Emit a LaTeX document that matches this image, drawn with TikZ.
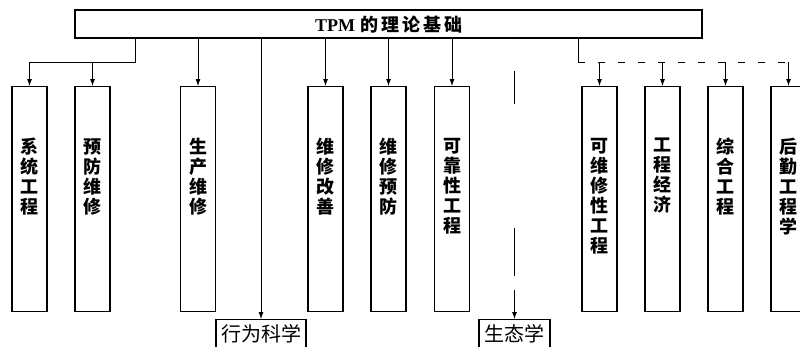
\documentclass[tikz,border=0pt]{standalone}
\usepackage{fontspec}
\setmainfont{Liberation Serif}
\newfontfamily\cjk{Noto Sans CJK SC}
\usetikzlibrary{arrows.meta}
\newcommand{\tsp}{\hspace{3pt}}
\tikzset{
  colbox/.style={draw, line width=1.1pt, minimum width=35pt, minimum height=225pt, inner sep=0pt, anchor=north},
  lbl/.style={anchor=north, inner sep=0pt, align=center, font=\cjk\bfseries\fontsize{18}{20}\selectfont},
  botbox/.style={draw, line width=1.1pt, minimum height=40pt, inner sep=0pt, anchor=north},
  botlbl/.style={anchor=north, inner sep=0pt, font=\cjk\fontsize{20}{22}\selectfont},
  conn/.style={line width=0.8pt},
  arr/.style={line width=0.8pt, -{Latex[length=7pt,width=5pt]}},
}
\begin{document}
\begin{tikzpicture}[x=1pt,y=-1pt]
\useasboundingbox (0,0) rectangle (800,346);
\clip (0,0) rectangle (800,346);
% top box
\node[draw, line width=1.2pt, minimum width=627pt, minimum height=28pt, inner sep=0pt] (top) at (388.5,24) {};
\node[inner sep=0pt] (title) at (389,24.5) {\bfseries\fontsize{18}{20}\selectfont TPM\hspace{6pt}\cjk\fontsize{18}{18}\selectfont 的\tsp 理\tsp 论\tsp 基\tsp 础};
% column boxes
\node[colbox] (b1) at (29.5,86) {};
\node[colbox] (b2) at (92.5,86) {};
\node[colbox] (b3) at (198,86) {};
\node[colbox] (b4) at (325.5,86) {};
\node[colbox] (b5) at (388.5,86) {};
\node[colbox] (b6) at (452,86) {};
\node[colbox] (b7) at (599.5,86) {};
\node[colbox] (b8) at (662.5,86) {};
\node[colbox] (b9) at (725.5,86) {};
\node[colbox] (b10) at (788.5,86) {};
% labels
\node[lbl] (l1) at (29.5,138) {系\\统\\工\\程};
\node[lbl] (l2) at (92.5,138) {预\\防\\维\\修};
\node[lbl] (l3) at (198,138) {生\\产\\维\\修};
\node[lbl] (l4) at (325.5,138) {维\\修\\改\\善};
\node[lbl] (l5) at (388.5,138) {维\\修\\预\\防};
\node[lbl] (l6) at (452,138) {可\\靠\\性\\工\\程};
\node[lbl] (l7) at (599.5,138) {可\\维\\修\\性\\工\\程};
\node[lbl] (l8) at (662.5,138) {工\\程\\经\\济};
\node[lbl] (l9) at (725.5,138) {综\\合\\工\\程};
\node[lbl] (l10) at (788.5,138) {后\\勤\\工\\程\\学};
% bottom boxes
\node[botbox, minimum width=90pt] (beh) at (261,319) {};
\node[botlbl] (behl) at (261,324) {行为科学};
\node[botbox, minimum width=71pt] (eco) at (514.5,319) {};
\node[botlbl] (ecol) at (514.5,324) {生态学};
% connectors left group
\coordinate (j1) at (135,62);
\draw[arr] (top.south -| j1) -- (j1) -| (b1.north);
\draw[arr] (b2.north |- j1) -- (b2.north);
\draw[arr] (top.south -| b3.north) -- (b3.north);
\draw[arr] (top.south -| beh.north) -- (beh.north);
\draw[arr] (top.south -| b4.north) -- (b4.north);
\draw[arr] (top.south -| b5.north) -- (b5.north);
\draw[arr] (top.south -| b6.north) -- (b6.north);
\draw[arr, dash pattern=on 33pt off 124pt on 48pt off 14pt on 60pt off 32pt, dash phase=279pt] (top.south -| eco.north) -- (eco.north);
% right group
\coordinate (j2) at (578,62);
\draw[conn] (top.south -| j2) -- (j2);
\draw[conn, dash pattern=on 7pt off 13pt] (j2) -- (b10.north |- j2);
\draw[arr] (b7.north |- j2) -- (b7.north);
\draw[arr] (b8.north |- j2) -- (b8.north);
\draw[arr] (b9.north |- j2) -- (b9.north);
\draw[arr] (b10.north |- j2) -- (b10.north);
\end{tikzpicture}
\end{document}
